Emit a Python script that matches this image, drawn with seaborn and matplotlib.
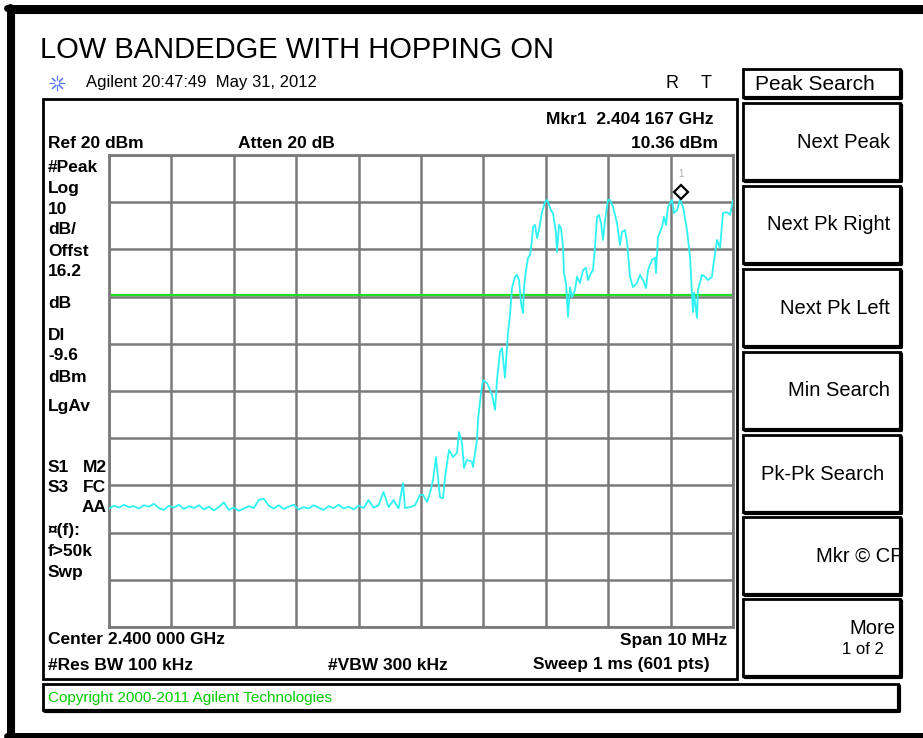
import numpy as np
import pandas as pd
import matplotlib
matplotlib.use('Agg')
import matplotlib.pyplot as plt
import matplotlib.transforms as mtransforms
from matplotlib.patches import Rectangle
import seaborn as sns

# trace: offset from the 2.400 GHz centre (MHz) and level (dBm)
freq_mhz = [-5.00, -4.92, -4.84, -4.76, -4.68, -4.60, -4.52, -4.44, -4.36, -4.28,
            -4.20, -4.12, -4.04, -3.96, -3.88, -3.80, -3.72, -3.64, -3.56, -3.48,
            -3.40, -3.32, -3.24, -3.16, -3.08, -3.00, -2.92, -2.84, -2.76, -2.68,
            -2.60, -2.52, -2.44, -2.36, -2.28, -2.20, -2.12, -2.04, -1.96, -1.88,
            -1.80, -1.72, -1.64, -1.56, -1.48, -1.40, -1.32, -1.24, -1.16, -1.08,
            -1.00, -0.92, -0.84, -0.76, -0.68, -0.60, -0.52, -0.44, -0.36,
            -0.288, -0.256, -0.176, -0.096, -0.016, 0.032, 0.096, 0.144, 0.192, 0.240,
            0.272, 0.304, 0.353, 0.385, 0.417, 0.449, 0.513, 0.577, 0.609, 0.657,
            0.689, 0.737, 0.817, 0.833, 0.897, 0.913, 0.962, 0.994, 1.058, 1.138,
            1.186, 1.218, 1.266, 1.298, 1.346, 1.394, 1.426, 1.458, 1.506, 1.538,
            1.571, 1.603, 1.635, 1.651, 1.683, 1.715, 1.747, 1.779, 1.795, 1.827,
            1.859, 1.891, 1.939, 1.987, 2.019, 2.035, 2.083, 2.115, 2.163, 2.179,
            2.212, 2.244, 2.276, 2.292, 2.324, 2.340, 2.356, 2.388, 2.420, 2.468,
            2.500, 2.548, 2.596, 2.644, 2.676, 2.724, 2.756, 2.788, 2.821, 2.853,
            2.885, 2.917, 2.949, 2.997, 3.029, 3.077, 3.141, 3.189, 3.221, 3.269,
            3.301, 3.349, 3.397, 3.462, 3.510, 3.558, 3.606, 3.638, 3.702, 3.750,
            3.766, 3.798, 3.862, 3.894, 3.926, 3.958, 4.022, 4.054, 4.103, 4.151,
            4.199, 4.263, 4.311, 4.343, 4.359, 4.375, 4.423, 4.439, 4.503, 4.551,
            4.599, 4.663, 4.679, 4.744, 4.792, 4.840, 4.904, 4.952, 5.000]
level_dbm = [-54.9, -54.3, -54.7, -54.1, -54.6, -54.4, -54.9, -54.2, -54.5, -53.9,
             -54.8, -55.2, -54.3, -54.7, -54.1, -55.0, -54.4, -54.8, -54.2, -55.1,
             -54.5, -55.3, -54.6, -53.6, -55.2, -54.7, -55.4, -54.9, -54.4, -54.8,
             -53.1, -52.8, -54.3, -54.9, -54.2, -55.0, -54.5, -54.1, -55.1, -54.6,
             -54.9, -54.2, -54.7, -55.2, -54.4, -54.8, -54.1, -54.9, -54.5, -55.1,
             -54.3, -54.8, -53.1, -54.7, -54.2, -51.4, -54.6, -53.1, -54.9,
             -49.5, -54.8, -54.6, -54.2, -52.0, -52.0, -53.5, -51.6, -48.9, -44.0,
             -48.2, -52.5, -52.7, -48.2, -45.3, -42.5, -44.0, -43.1, -38.7, -41.0,
             -46.3, -44.6, -45.0, -46.1, -40.4, -36.1, -30.4, -27.7, -28.3, -30.8,
             -34.0, -27.7, -21.7, -20.9, -27.2, -17.7, -13.9, -8.2, -5.8, -5.4,
             -6.5, -11.4, -13.5, -8.0, -4.4, -1.8, -1.2, 2.0, 4.7, 5.2,
             2.4, 4.1, 7.9, 10.0, 10.5, 10.0, 8.3, 7.7, 3.5, -0.6,
             5.2, 4.5, 0.5, -5.0, -7.1, -10.7, -14.3, -8.0, -10.1, -8.6,
             -5.8, -7.1, -4.4, -3.9, -6.5, -5.0, -4.4, 0.5, 6.9, 7.3,
             5.6, 2.0, 6.2, 10.5, 10.5, 9.0, 5.6, 0.9, 3.7, 4.1,
             1.6, -5.8, -8.0, -7.1, -5.4, -6.5, -8.2, -4.4, -2.2, -1.8,
             -5.0, 2.6, 4.7, 6.9, 5.2, 9.0, 10.5, 7.7, 8.3, 10.5,
             9.0, 4.1, -1.6, -9.2, -13.3, -9.2, -14.5, -8.6, -5.4, -5.8,
             -6.5, -5.8, -3.9, 2.0, 0.3, 7.7, 7.9, 7.3, 10.5]

ref_level = 20
db_per_div = 10
display_line = -9.6
mkr_freq = 4.167
mkr_level = 10.36

title = 'LOW BANDEDGE WITH HOPPING ON'
side_keys = ['Next Peak', 'Next Pk Right', 'Next Pk Left', 'Min Search',
             'Pk-Pk Search', 'Mkr \u00a9 CF', 'More']
left_labels = ['#Peak', 'Log', '10', 'dB/', 'Offst', '16.2', 'dB', 'DI', '-9.6',
               'dBm', 'LgAv', 'S1', 'S3', '\u00a4(f):', 'f>50k', 'Swp']

trace = pd.DataFrame({'freq': freq_mhz, 'level': level_dbm})

sns.set_theme(style='white')
plt.rcParams['font.family'] = ['Liberation Sans', 'DejaVu Sans']

W, H = 923, 738
fig = plt.figure(figsize=(W / 100, H / 100), dpi=100)
fig.patch.set_facecolor('white')

# overlay in pixel coordinates for the instrument screen furniture
ov = fig.add_axes([0, 0, 1, 1])
ov.set_xlim(0, W)
ov.set_ylim(H, 0)
ov.axis('off')


def txt(x, y, s, size=12.5, weight='bold', ha='left', color='black'):
    ov.text(x, y, s, fontsize=size, fontweight=weight, ha=ha, va='center', color=color)


def box(x0, y0, x1, y1, lw=2, shadow=True):
    ov.add_patch(Rectangle((x0, y0), x1 - x0, y1 - y0, fill=False, ec='black', lw=lw))
    if shadow:
        ov.plot([x1 + 1, x1 + 1], [y0 + 2, y1 + 1], color='black', lw=lw + 1)
        ov.plot([x0 + 2, x1 + 1], [y1 + 1, y1 + 1], color='black', lw=lw + 1)


# outer frame
ov.plot([9.5, 9.5], [7, 738], color='black', lw=5)
ov.plot([7, 923], [7.5, 7.5], color='black', lw=5)
ov.plot([7, 923], [735.5, 735.5], color='black', lw=5)
ov.plot([14, 14], [13, 738], color='black', lw=1.5)
ov.plot([14, 923], [13, 13], color='black', lw=1.5)

txt(40, 50, title, size=21, weight='normal')
ov.scatter([57], [83], marker=(8, 2, 0), s=110, color='#5577ff', lw=0.8)
ov.scatter([57], [83], marker='o', s=10, facecolor='white', edgecolor='none')
txt(86, 83, 'Agilent 20:47:49  May 31, 2012', size=12, weight='normal')
txt(672, 83, 'R', size=13, weight='normal', ha='center')
txt(706, 83, 'T', size=13, weight='normal', ha='center')

# display box and header
box(43, 99, 737, 679, lw=2, shadow=False)
txt(714, 119, 'Mkr1  2.404 167 GHz', ha='right')
txt(718, 143, '10.36 dBm', ha='right')
txt(48, 143, 'Ref 20 dBm')
txt(238, 143, 'Atten 20 dB')

left_y = [167, 188, 209, 230, 251, 272, 303, 335, 356, 377, 407, 467, 488, 530, 551, 572]
for lab, yy in zip(left_labels, left_y):
    txt(48, yy, lab)
txt(83, 467, 'M2')
txt(83, 488, 'FC')
txt(107, 508, 'AA', ha='right')

txt(48, 640, 'Center 2.400 000 GHz')
txt(727, 640, 'Span 10 MHz', ha='right')
txt(48, 665, '#Res BW 100 kHz')
txt(328, 665, '#VBW 300 kHz')
txt(710, 665, 'Sweep 1 ms (601 pts)', ha='right')

# copyright strip
box(43, 684, 898, 710, lw=2)
txt(48, 698, 'Copyright 2000-2011 Agilent Technologies', size=11, weight='normal', color='#00cc00')

# softkeys
box(743, 69, 900, 97, lw=2)
txt(755, 84, 'Peak Search', size=15, weight='normal')
tops = [103, 186, 269, 352, 435, 517, 599]
for key, t in zip(side_keys, tops):
    box(743, t, 900, t + 77, lw=2)
    if key == 'More':
        txt(895, t + 30, key, size=14.5, weight='normal', ha='right')
        txt(884, t + 51, '1 of 2', size=12, weight='normal', ha='right')
    elif key == 'Pk-Pk Search':
        txt(884, t + 39, key, size=14.5, weight='normal', ha='right')
    elif key.startswith('Mkr'):
        txt(902, t + 39, key, size=14.5, weight='normal', ha='right')
    else:
        txt(890, t + 39, key, size=14.5, weight='normal', ha='right')

# trace graticule
ax = fig.add_axes([109 / W, 1 - 627 / H, 624 / W, 472 / H])
sns.lineplot(data=trace, x='freq', y='level', ax=ax, color='#2ef2f2', lw=1.3,
             estimator=None, sort=False, zorder=3)
ax.axhline(display_line, color='#22dd22', lw=1.6, zorder=2)
ax.set_xlim(-5, 5)
ax.set_ylim(ref_level - 10 * db_per_div, ref_level)
ax.set_xticks(np.arange(-5, 6, 1))
ax.set_yticks(np.arange(ref_level - 10 * db_per_div, ref_level + 1, db_per_div))
ax.grid(True, color='#7a7a7a', lw=1.8)
ax.tick_params(length=0, labelbottom=False, labelleft=False)
ax.set_xlabel('')
ax.set_ylabel('')
for sp in ax.spines.values():
    sp.set_color('#7a7a7a')
    sp.set_linewidth(2)

up = mtransforms.offset_copy(ax.transData, fig=fig, y=6, units='points')
ax.plot([mkr_freq], [mkr_level], marker='D', ms=7, mfc='white', mec='black', mew=1.6,
        transform=up, zorder=5)
up2 = mtransforms.offset_copy(ax.transData, fig=fig, y=17, units='points')
ax.text(mkr_freq, mkr_level, '1', transform=up2, fontsize=7, color='#aaaaaa', ha='center')

fig.savefig('out.png', dpi=100)
